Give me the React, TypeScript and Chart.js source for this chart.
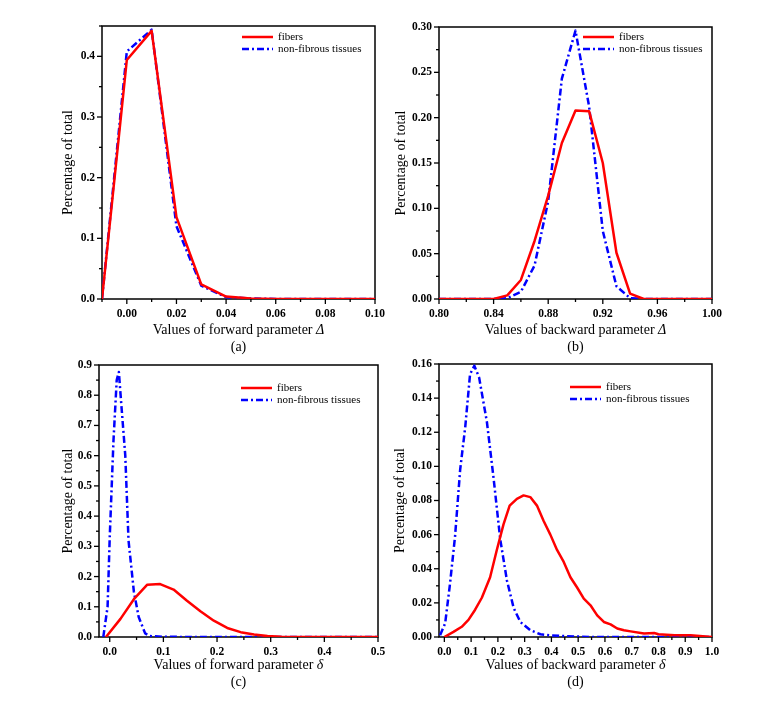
import React, { useEffect, useRef } from "react";
import { Chart, registerables } from "chart.js";

Chart.register(...registerables);

// ---------------- Data ----------------
const SERIES_NAMES = ["fibers", "non-fibrous tissues"];

// Panel (a): forward parameter Δ
const aX = [-0.01, 0.0, 0.01, 0.02, 0.03, 0.04, 0.05, 0.06, 0.07, 0.08, 0.09, 0.1];
const aFibers = [0, 0.394, 0.442, 0.135, 0.024, 0.004, 0.001, 0, 0, 0, 0, 0];
const aNonFibrous = [0, 0.408, 0.444, 0.12, 0.022, 0.003, 0.001, 0, 0, 0, 0, 0];
const aXTicks = [0.0, 0.02, 0.04, 0.06, 0.08, 0.1];
const aYTicks = [0.0, 0.1, 0.2, 0.3, 0.4];

// Panel (b): backward parameter Δ
const bX = [0.8, 0.81, 0.82, 0.83, 0.84, 0.85, 0.86, 0.87, 0.88, 0.89, 0.9, 0.91, 0.92, 0.93, 0.94, 0.95, 0.96, 0.97, 0.98, 0.99, 1.0];
const bFibers = [0, 0, 0, 0, 0, 0.004, 0.021, 0.064, 0.114, 0.172, 0.208, 0.207, 0.15, 0.051, 0.006, 0, 0, 0, 0, 0, 0];
const bNonFibrous = [0, 0, 0, 0, 0, 0.001, 0.008, 0.037, 0.108, 0.243, 0.296, 0.212, 0.075, 0.014, 0.001, 0, 0, 0, 0, 0, 0];
const bXTicks = [0.8, 0.84, 0.88, 0.92, 0.96, 1.0];
const bYTicks = [0.0, 0.05, 0.1, 0.15, 0.2, 0.25, 0.3];

// Panel (c): forward parameter δ
const cFibersX = [-0.007, 0.02, 0.045, 0.07, 0.094, 0.119, 0.144, 0.169, 0.194, 0.219, 0.244, 0.269, 0.294, 0.32, 0.35, 0.4, 0.45, 0.5];
const cFibers = [0, 0.06, 0.125, 0.173, 0.175, 0.157, 0.12, 0.085, 0.054, 0.03, 0.016, 0.008, 0.003, 0.001, 0, 0, 0, 0];
const cNonFibrousX = [-0.012, -0.004, 0.0, 0.007, 0.013, 0.017, 0.022, 0.029, 0.035, 0.045, 0.054, 0.066, 0.075, 0.1, 0.15, 0.2, 0.3, 0.4, 0.5];
const cNonFibrous = [0, 0.1, 0.33, 0.65, 0.85, 0.877, 0.76, 0.6, 0.32, 0.15, 0.066, 0.012, 0.003, 0.001, 0, 0, 0, 0, 0];
const cXTicks = [0.0, 0.1, 0.2, 0.3, 0.4, 0.5];
const cYTicks = [0.0, 0.1, 0.2, 0.3, 0.4, 0.5, 0.6, 0.7, 0.8, 0.9];

// Panel (d): backward parameter δ
const dFibersX = [0.0, 0.034, 0.065, 0.09, 0.115, 0.14, 0.171, 0.196, 0.221, 0.244, 0.271, 0.296, 0.321, 0.346, 0.371, 0.396, 0.421, 0.446, 0.471, 0.496, 0.521, 0.546, 0.571, 0.596, 0.621, 0.646, 0.671, 0.696, 0.746, 0.784, 0.8, 0.86, 0.92, 1.0];
const dFibers = [0, 0.003, 0.006, 0.01, 0.016, 0.023, 0.035, 0.051, 0.066, 0.077, 0.081, 0.083, 0.082, 0.077, 0.068, 0.06, 0.051, 0.044, 0.035, 0.029, 0.0225, 0.0186, 0.0127, 0.0088, 0.0074, 0.005, 0.004, 0.0033, 0.002, 0.0023, 0.0016, 0.001, 0.001, 0];
const dNonFibrousX = [-0.016, 0.003, 0.021, 0.04, 0.059, 0.078, 0.096, 0.112, 0.13, 0.159, 0.184, 0.209, 0.234, 0.259, 0.284, 0.321, 0.359, 0.396, 0.45, 0.55, 0.7, 0.85, 1.0];
const dNonFibrous = [0.001, 0.008, 0.031, 0.059, 0.098, 0.123, 0.154, 0.159, 0.152, 0.126, 0.093, 0.057, 0.033, 0.017, 0.0088, 0.004, 0.0016, 0.001, 0.0005, 0, 0, 0, 0];
const dXTicks = [0.0, 0.1, 0.2, 0.3, 0.4, 0.5, 0.6, 0.7, 0.8, 0.9, 1.0];
const dYTicks = [0.0, 0.02, 0.04, 0.06, 0.08, 0.1, 0.12, 0.14, 0.16];

// ---------------- Layout / style ----------------
const FONT = "'Liberation Serif', 'Times New Roman', serif";
const RED = "#ff0000";
const BLUE = "#0000ff";

type Panel = {
  id: string;
  left: number; top: number; width: number; height: number;
  xMin: number; xMax: number; yMin: number; yMax: number;
  xMajor: number[]; yMajor: number[]; xDec: number; yDec: number;
  fx: number[]; fy: number[]; nx: number[]; ny: number[];
  xTitle: string; symbol: string; caption: string;
  yAxisWidth: number; padRight: number; padTop: number; xAxisHeight: number;
  yTitlePad: number; titleGap: number; legendDx: number; legendDy: number;
};

const PANELS: Panel[] = [
  {
    id: "a", left: 50, top: 0, width: 340, height: 360,
    xMin: -0.01, xMax: 0.1, yMin: 0, yMax: 0.45, xMajor: aXTicks, yMajor: aYTicks, xDec: 2, yDec: 1,
    fx: aX, fy: aFibers, nx: aX, ny: aNonFibrous,
    xTitle: "Values of forward parameter ", symbol: "Δ", caption: "(a)",
    yAxisWidth: 52, padRight: 15, padTop: 26, xAxisHeight: 61, yTitlePad: 9.5, titleGap: 31, legendDx: 140, legendDy: 11,
  },
  {
    id: "b", left: 390, top: 0, width: 340, height: 360,
    xMin: 0.8, xMax: 1.0, yMin: 0, yMax: 0.3, xMajor: bXTicks, yMajor: bYTicks, xDec: 2, yDec: 2,
    fx: bX, fy: bFibers, nx: bX, ny: bNonFibrous,
    xTitle: "Values of backward parameter ", symbol: "Δ", caption: "(b)",
    yAxisWidth: 49, padRight: 18, padTop: 27, xAxisHeight: 61, yTitlePad: 3, titleGap: 31, legendDx: 144, legendDy: 10,
  },
  {
    id: "c", left: 50, top: 350, width: 340, height: 352,
    xMin: -0.02, xMax: 0.5, yMin: 0, yMax: 0.9, xMajor: cXTicks, yMajor: cYTicks, xDec: 1, yDec: 1,
    fx: cFibersX, fy: cFibers, nx: cNonFibrousX, ny: cNonFibrous,
    xTitle: "Values of forward parameter ", symbol: "δ", caption: "(c)",
    yAxisWidth: 49, padRight: 12, padTop: 15, xAxisHeight: 65, yTitlePad: 9.5, titleGap: 28, legendDx: 142, legendDy: 23,
  },
  {
    id: "d", left: 390, top: 350, width: 340, height: 352,
    xMin: -0.02, xMax: 1.0, yMin: 0, yMax: 0.16, xMajor: dXTicks, yMajor: dYTicks, xDec: 1, yDec: 2,
    fx: dFibersX, fy: dFibers, nx: dNonFibrousX, ny: dNonFibrous,
    xTitle: "Values of backward parameter ", symbol: "δ", caption: "(d)",
    yAxisWidth: 49, padRight: 18, padTop: 14, xAxisHeight: 65, yTitlePad: 2, titleGap: 28, legendDx: 131, legendDy: 23,
  },
];

function buildTicks(majors: number[], min: number, max: number) {
  const step = majors[1] - majors[0];
  const out: { value: number; major: boolean }[] = [];
  const eps = 1e-9;
  const first = majors[0] - step / 2;
  if (first >= min - eps) out.push({ value: +first.toFixed(6), major: false });
  majors.forEach((m) => {
    out.push({ value: m, major: true });
    const mid = +(m + step / 2).toFixed(6);
    if (mid <= max + eps) out.push({ value: mid, major: false });
  });
  return out.filter((t) => t.value >= min - eps && t.value <= max + eps);
}

function PanelChart({ p }: { p: Panel }) {
  const ref = useRef<HTMLCanvasElement | null>(null);
  useEffect(() => {
    if (!ref.current) return;

    const framePlugin = {
      id: "frameTicks" + p.id,
      beforeDatasetsDraw(chart: any) {
        const { ctx, chartArea } = chart;
        const { left, right, top, bottom } = chartArea;
        ctx.save();
        ctx.strokeStyle = "#000";
        ctx.lineWidth = 1.5;
        ctx.strokeRect(left, top, right - left, bottom - top);
        ctx.lineWidth = 1.3;
        const xs = chart.scales.x;
        xs.ticks.forEach((t: any) => {
          const px = xs.getPixelForValue(t.value);
          const len = t.major ? 5 : 3;
          ctx.beginPath();
          ctx.moveTo(px, bottom);
          ctx.lineTo(px, bottom + len);
          ctx.stroke();
        });
        const ys = chart.scales.y;
        ys.ticks.forEach((t: any) => {
          const py = ys.getPixelForValue(t.value);
          const len = t.major ? 5 : 3;
          ctx.beginPath();
          ctx.moveTo(left - len, py);
          ctx.lineTo(left, py);
          ctx.stroke();
        });
        ctx.restore();
      },
    };

    const annotPlugin = {
      id: "annot" + p.id,
      afterDatasetsDraw(chart: any) {
        const { ctx, chartArea } = chart;
        const { left, right, top, bottom } = chartArea;
        ctx.save();
        // legend
        const x0 = left + p.legendDx;
        chart.data.datasets.forEach((ds: any, i: number) => {
          const y = top + p.legendDy + i * 12;
          ctx.strokeStyle = ds.borderColor;
          ctx.lineWidth = 2.5;
          ctx.setLineDash(ds.borderDash || []);
          ctx.beginPath();
          ctx.moveTo(x0, y);
          ctx.lineTo(x0 + 31, y);
          ctx.stroke();
          ctx.setLineDash([]);
          ctx.fillStyle = "#000";
          ctx.font = `11px ${FONT}`;
          ctx.textBaseline = "middle";
          ctx.textAlign = "left";
          ctx.fillText(ds.label, x0 + 36, y);
        });
        // x-axis title with italic symbol, plus caption
        const cx = (left + right) / 2;
        ctx.fillStyle = "#000";
        ctx.textBaseline = "middle";
        ctx.textAlign = "left";
        ctx.font = `14px ${FONT}`;
        const w1 = ctx.measureText(p.xTitle).width;
        ctx.font = `italic 14px ${FONT}`;
        const w2 = ctx.measureText(p.symbol).width;
        const sx = cx - (w1 + w2) / 2;
        const ty = bottom + p.titleGap;
        ctx.font = `14px ${FONT}`;
        ctx.fillText(p.xTitle, sx, ty);
        ctx.font = `italic 14px ${FONT}`;
        ctx.fillText(p.symbol, sx + w1, ty);
        ctx.font = `14px ${FONT}`;
        ctx.textAlign = "center";
        ctx.fillText(p.caption, cx, ty + 17);
        ctx.restore();
      },
    };

    const isMajor = (majors: number[], v: number) => majors.some((m) => Math.abs(m - v) < 1e-7);

    const chart = new Chart(ref.current, {
      type: "line",
      data: {
        datasets: [
          {
            label: SERIES_NAMES[0],
            data: p.fx.map((x, i) => ({ x, y: p.fy[i] })),
            borderColor: RED,
            borderWidth: 2.5,
            pointRadius: 0,
            tension: 0,
            fill: false,
            borderJoinStyle: "round",
          },
          {
            label: SERIES_NAMES[1],
            data: p.nx.map((x, i) => ({ x, y: p.ny[i] })),
            borderColor: BLUE,
            borderWidth: 2.5,
            borderDash: [7, 3, 2, 3],
            pointRadius: 0,
            tension: 0,
            fill: false,
            borderJoinStyle: "round",
          },
        ],
      },
      options: {
        animation: false,
        responsive: false,
        devicePixelRatio: 1,
        events: [],
        layout: { padding: { left: 0, right: p.padRight, top: p.padTop, bottom: 0 } },
        plugins: {
          legend: { display: false },
          tooltip: { enabled: false },
          title: { display: false },
        },
        scales: {
          x: {
            type: "linear",
            min: p.xMin,
            max: p.xMax,
            grid: { display: false, drawTicks: false },
            border: { display: false },
            afterBuildTicks: (scale: any) => {
              scale.ticks = buildTicks(p.xMajor, p.xMin, p.xMax);
            },
            afterFit: (scale: any) => {
              scale.height = p.xAxisHeight;
              scale.paddingLeft = 0;
              scale.paddingRight = 0;
            },
            ticks: {
              autoSkip: false,
              maxRotation: 0,
              padding: 8,
              color: "#000",
              font: { family: FONT, size: 11.5, weight: "bold" },
              callback: (value: any) => (isMajor(p.xMajor, Number(value)) ? Number(value).toFixed(p.xDec) : ""),
            },
          },
          y: {
            type: "linear",
            min: p.yMin,
            max: p.yMax,
            grid: { display: false, drawTicks: false },
            border: { display: false },
            afterBuildTicks: (scale: any) => {
              scale.ticks = buildTicks(p.yMajor, p.yMin, p.yMax);
            },
            afterFit: (scale: any) => {
              scale.width = p.yAxisWidth;
              scale.paddingTop = 0;
              scale.paddingBottom = 0;
            },
            title: {
              display: true,
              text: "Percentage of total",
              color: "#000",
              font: { family: FONT, size: 14, weight: "normal" },
              padding: { top: p.yTitlePad, bottom: 0 },
            },
            ticks: {
              autoSkip: false,
              padding: 7,
              color: "#000",
              font: { family: FONT, size: 11.5, weight: "bold" },
              callback: (value: any) => (isMajor(p.yMajor, Number(value)) ? Number(value).toFixed(p.yDec) : ""),
            },
          },
        },
      },
      plugins: [framePlugin, annotPlugin],
    } as any);
    return () => chart.destroy();
  }, [p]);

  return (
    <canvas
      ref={ref}
      width={p.width}
      height={p.height}
      style={{ position: "absolute", left: p.left, top: p.top, width: p.width, height: p.height }}
    />
  );
}

export default function App() {
  return (
    <div style={{ position: "absolute", left: 0, top: 0, width: 770, height: 702, background: "#fff" }}>
      {PANELS.map((p) => (
        <PanelChart key={p.id} p={p} />
      ))}
    </div>
  );
}
